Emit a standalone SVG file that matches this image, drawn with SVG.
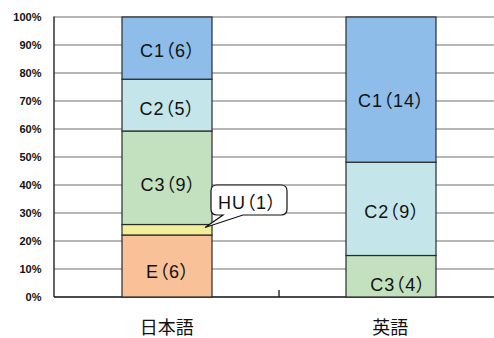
<svg xmlns="http://www.w3.org/2000/svg" width="494" height="338" viewBox="0 0 494 338">
<style>
.grid{stroke:#6e6e6e;stroke-width:1.2}
.axis{stroke:#111;stroke-width:1.3;fill:none}
.seg{stroke:#2a2a2a;stroke-width:1.2}
.ylab{font-family:"Liberation Sans",Arial,sans-serif;font-size:11px;font-weight:bold;fill:#111;text-anchor:end}
.lab{font-family:"Liberation Sans","Noto Sans CJK JP",sans-serif;font-size:18px;fill:#111;font-feature-settings:"palt";letter-spacing:1px;text-anchor:middle}
.cat{font-family:"Noto Sans CJK JP",sans-serif;font-size:18px;fill:#111;text-anchor:middle}
.c1{fill:#8dbde8}.c2{fill:#c4e6ea}.c3{fill:#c3e1bf}.hu{fill:#f2ef9b}.e{fill:#f8c197}
</style>
<rect width="494" height="338" fill="#fff"/>
<g id="gridlines">
<line class="grid" x1="54" y1="17" x2="494" y2="17"/>
<line class="grid" x1="54" y1="45" x2="494" y2="45"/>
<line class="grid" x1="54" y1="73" x2="494" y2="73"/>
<line class="grid" x1="54" y1="101" x2="494" y2="101"/>
<line class="grid" x1="54" y1="129" x2="494" y2="129"/>
<line class="grid" x1="54" y1="157" x2="494" y2="157"/>
<line class="grid" x1="54" y1="185" x2="494" y2="185"/>
<line class="grid" x1="54" y1="213" x2="494" y2="213"/>
<line class="grid" x1="54" y1="241" x2="494" y2="241"/>
<line class="grid" x1="54" y1="269" x2="494" y2="269"/>
</g>
<g id="axes">
<line class="axis" x1="54" y1="16.5" x2="54" y2="297"/>
<line class="axis" x1="54" y1="297" x2="494" y2="297"/>
<line class="axis" x1="279" y1="290" x2="279" y2="297"/>
</g>
<g id="ylabels">
<text class="ylab" x="41.5" y="21">100%</text>
<text class="ylab" x="41.5" y="49">90%</text>
<text class="ylab" x="41.5" y="77">80%</text>
<text class="ylab" x="41.5" y="105">70%</text>
<text class="ylab" x="41.5" y="133">60%</text>
<text class="ylab" x="41.5" y="161">50%</text>
<text class="ylab" x="41.5" y="189">40%</text>
<text class="ylab" x="41.5" y="217">30%</text>
<text class="ylab" x="41.5" y="245">20%</text>
<text class="ylab" x="41.5" y="273">10%</text>
<text class="ylab" x="41.5" y="301">0%</text>
</g>
<g id="bar-japanese">
<rect class="seg e" x="122" y="235" width="90" height="62"/>
<rect class="seg hu" x="122" y="224.5" width="90" height="10.5"/>
<rect class="seg c3" x="122" y="131" width="90" height="93.5"/>
<rect class="seg c2" x="122" y="79.2" width="90" height="51.8"/>
<rect class="seg c1" x="122" y="17" width="90" height="62.2"/>
<text class="lab" x="168" y="56.5">C1（6）</text>
<text class="lab" x="167.5" y="115">C2（5）</text>
<text class="lab" x="168.5" y="190.5">C3（9）</text>
<text class="lab" x="168" y="278">E（6）</text>
</g>
<g id="bar-english">
<rect class="seg c3" x="346" y="255.5" width="90" height="41.5"/>
<rect class="seg c2" x="346" y="162.2" width="90" height="93.3"/>
<rect class="seg c1" x="346" y="17" width="90" height="145.2"/>
<text class="lab" x="391.5" y="106.5">C1（14）</text>
<text class="lab" x="392.2" y="218">C2（9）</text>
<text class="lab" x="398.2" y="290.5">C3（4）</text>
</g>
<g id="callout-hu">
<path d="M217,185 H281 Q287,185 287,191 V209 Q287,215 281,215 H243 L205,227.5 L223,215 H217 Q211,215 211,209 V191 Q211,185 217,185 Z" fill="#fff" stroke="#111" stroke-width="1.2"/>
<text class="lab" x="247.5" y="209">HU（1）</text>
</g>
<g id="categories">
<text class="cat" x="166.7" y="333.5">日本語</text>
<text class="cat" x="390.3" y="333.5">英語</text>
</g>
</svg>
